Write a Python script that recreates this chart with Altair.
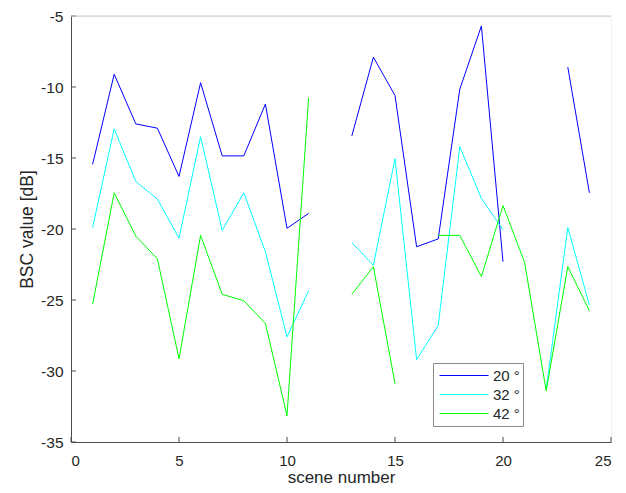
import altair as alt
import pandas as pd

scenes = list(range(1, 25))
angle_labels = ["20 °", "32 °", "42 °"]
line_colors = ["#0000ff", "#00ffff", "#00ff00"]

bsc_20 = [-15.45, -9.1, -12.6, -12.9, -16.3, -9.7, -14.85, -14.85, -11.2, -19.95, -18.9, None,
          -13.45, -7.9, -10.6, -21.25, -20.7, -10.15, -5.7, -22.3, None, None, -8.6, -17.45]
bsc_32 = [-19.9, -12.95, -16.65, -17.9, -20.65, -13.5, -20.1, -17.45, -21.6, -27.6, -24.35, None,
          -20.95, -22.55, -15.05, -29.2, -26.8, -14.2, -17.85, -20.05, None, -31.3, -19.9, -25.35]
bsc_42 = [-25.3, -17.45, -20.5, -22.1, -29.15, -20.45, -24.6, -25.05, -26.65, -33.15, -10.75, None,
          -24.6, -22.65, -30.9, None, -20.45, -20.45, -23.35, -18.35, -22.35, -31.4, -22.65, -25.75]

x_ticks = [0, 5, 10, 15, 20, 25]
y_ticks = [-35, -30, -25, -20, -15, -10, -5]

rows = []
for lab, vals in zip(angle_labels, [bsc_20, bsc_32, bsc_42]):
    seg = 0
    for s, v in zip(scenes, vals):
        if v is None:
            seg += 1
            continue
        rows.append({"scene": s, "bsc": v, "angle": lab, "seg": f"{lab}-{seg}"})
df = pd.DataFrame(rows)

W, H = 540, 426
axis_color = "#4d4d4d"
text_color = "#262626"
font = "Liberation Sans"

xs = alt.Scale(domain=[0, 25], nice=False, zero=False)
ys = alt.Scale(domain=[-35, -5], nice=False, zero=False)

lines = alt.Chart(df).mark_line(strokeWidth=1).encode(
    x=alt.X("scene:Q", scale=xs, axis=alt.Axis(
        values=x_ticks, title="scene number", grid=False, tickSize=0,
        labelExpr="'' + datum.value",
        labelPadding=11, domainColor=axis_color, labelColor=text_color,
        labelFont=font, labelFontSize=15, titleFont=font, titleFontSize=17,
        titleFontWeight="normal", titleColor=text_color,
        titleBaseline="alphabetic", titleY=40, titleX=W / 2)),
    y=alt.Y("bsc:Q", scale=ys, axis=alt.Axis(
        values=y_ticks, title="BSC value [dB]", grid=False, tickSize=0,
        labelExpr="'' + datum.value",
        labelPadding=8, domainColor=axis_color, labelColor=text_color,
        labelFont=font, labelFontSize=15.5, titleFont=font, titleFontSize=17.5,
        titleFontWeight="normal", titleColor=text_color,
        titleBaseline="alphabetic", titleAngle=270, titleX=-39, titleY=H / 2)),
    color=alt.Color("angle:N", scale=alt.Scale(domain=angle_labels, range=line_colors),
                    legend=alt.Legend(
                        title=None, orient="none", legendX=362, legendY=347,
                        symbolType="stroke", symbolSize=2401, symbolStrokeWidth=1,
                        symbolOffset=3, labelOffset=4, clipHeight=19, rowPadding=0,
                        padding=3, strokeColor="#8c8c8c", fillColor="white",
                        labelFont=font, labelFontSize=15, labelColor=text_color)),
    detail="seg:N",
    order="scene:Q",
)

ytick_rules = alt.Chart(pd.DataFrame({"v": y_ticks})).mark_rule(color=axis_color).encode(
    y=alt.Y("v:Q", scale=ys), x=alt.value(0), x2=alt.value(5))
xtick_rules = alt.Chart(pd.DataFrame({"v": x_ticks})).mark_rule(color=axis_color).encode(
    x=alt.X("v:Q", scale=xs), y=alt.value(H), y2=alt.value(H - 5))
top_rule = alt.Chart(pd.DataFrame({"v": [0]})).mark_rule(color="#c8c8c8").encode(
    y=alt.value(0), x=alt.value(0), x2=alt.value(W))

chart = alt.layer(lines, ytick_rules, xtick_rules, top_rule).properties(
    width=W, height=H,
    autosize=alt.AutoSizeParams(type="none"),
    padding={"left": 63, "top": 8, "right": 7, "bottom": 43},
).configure_view(stroke="#f0f0f0")

chart.save("out.html", embed_options={"renderer": "svg", "actions": False})
